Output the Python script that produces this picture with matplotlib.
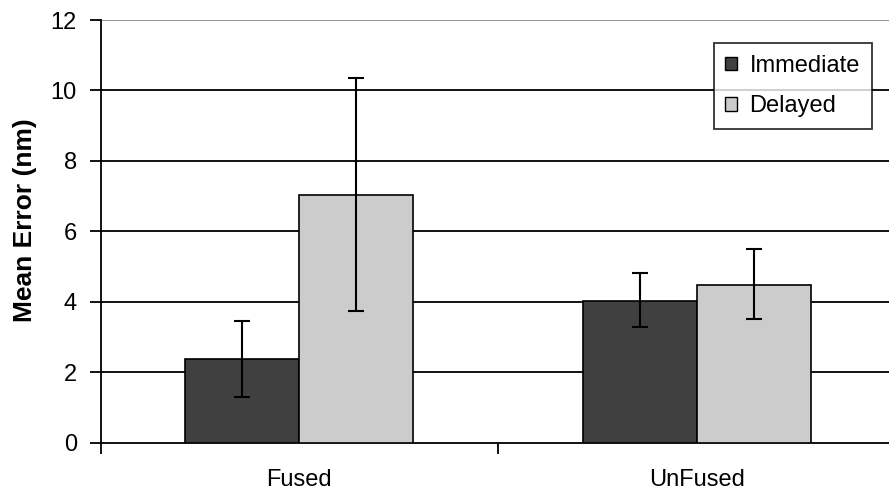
import matplotlib
matplotlib.use("Agg")
import matplotlib.pyplot as plt
from matplotlib.patches import Patch
import numpy as np

categories = ["Fused", "UnFused"]
series_names = ["Immediate", "Delayed"]
immediate = [2.38, 4.02]
delayed = [7.02, 4.48]
immediate_err_low = [1.31, 3.29]
immediate_err_high = [3.45, 4.82]
delayed_err_low = [3.75, 3.51]
delayed_err_high = [10.36, 5.50]
yticks = [0, 2, 4, 6, 8, 10, 12]

plt.rcParams['font.family'] = ['Liberation Sans', 'DejaVu Sans']

fig = plt.figure(figsize=(8.89, 5.01), dpi=100)
ax_l, ax_b, ax_w, ax_h = 100.6, 58.3, 794.8, 422.7
ax = fig.add_axes([ax_l / 889, ax_b / 501, ax_w / 889, ax_h / 501])

x = np.arange(len(categories))
w = 0.287
colors = ["#404040", "#cccccc"]
vals = [immediate, delayed]
lows = [immediate_err_low, delayed_err_low]
highs = [immediate_err_high, delayed_err_high]
for i, (v, lo, hi, c) in enumerate(zip(vals, lows, highs, colors)):
    pos = x + (i - 0.5) * w
    v = np.array(v); lo = np.array(lo); hi = np.array(hi)
    ax.bar(pos, v, width=w, color=c, edgecolor="black", linewidth=1.2, zorder=3)
    ax.errorbar(pos, v, yerr=[v - lo, hi - v], fmt="none", ecolor="black",
                elinewidth=1.5, capsize=5.5, capthick=1.5, zorder=4)

ax.set_ylim(0, 12)
ax.set_xlim(-0.5, len(categories) - 0.5)
ax.set_yticks(yticks)
ax.set_yticklabels([str(t) for t in yticks])
for t in yticks[1:-1]:
    ax.axhline(t, color="black", linewidth=1.3, zorder=1)
ax.axhline(12, color="#888888", linewidth=1.3, zorder=1)

ax.set_xticks(x)
ax.set_xticklabels(categories)
ax.set_xticks(np.arange(-0.5, len(categories) + 0.5, 1.0), minor=True)
ax.tick_params(axis="x", which="major", length=0, pad=19, labelsize=17)
ax.tick_params(axis="x", which="minor", length=8, width=1.3, direction="out")
ax.tick_params(axis="y", length=8, width=1.3, direction="out", pad=9, labelsize=17)

for s in ["top", "right"]:
    ax.spines[s].set_visible(False)
ax.spines["left"].set_linewidth(1.3)
ax.spines["bottom"].set_linewidth(1.3)

ax.set_ylabel("Mean Error (nm)", fontsize=19, fontweight="bold")
ax.yaxis.set_label_coords((37 - ax_l) / ax_w, (501 - 220 - ax_b) / ax_h)

handles = [Patch(facecolor=c, edgecolor="black", linewidth=1.0) for c in colors]
leg = ax.legend(handles, series_names, loc="upper right",
                bbox_to_anchor=((871.7 - ax_l) / ax_w, (501 - 43.3 - ax_b) / ax_h),
                fontsize=17, frameon=True, fancybox=False, edgecolor="black",
                handlelength=0.47, handleheight=0.5, handletextpad=0.55,
                borderpad=0.5, labelspacing=0.77, borderaxespad=0)
leg.get_frame().set_linewidth(1.3)
leg.set_zorder(5)

fig.savefig("out.png", dpi=100)
